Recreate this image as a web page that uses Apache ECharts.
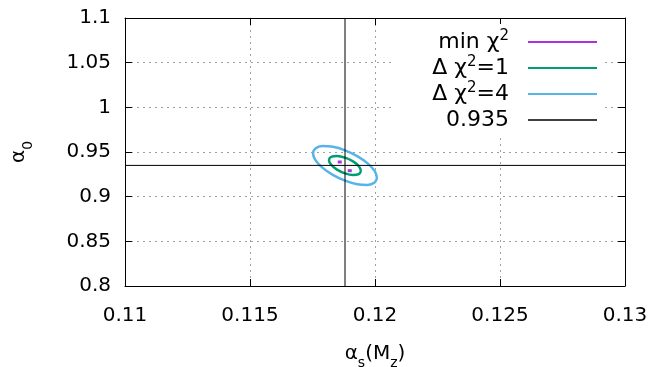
<!DOCTYPE html>
<html>
<head>
<meta charset="utf-8">
<script src="https://cdn.jsdelivr.net/npm/echarts@6/dist/echarts.min.js"></script>
<style>
  html, body { margin: 0; padding: 0; background: #fff; }
  #main { width: 657px; height: 367px; }
</style>
</head>
<body>
<div id="main"></div>
<script>
// axis ticks
var xTicks = [0.11, 0.115, 0.12, 0.125, 0.13];
var yTicks = [0.8, 0.85, 0.9, 0.95, 1, 1.05, 1.1];

// series values: [alpha_s, alpha_0]
var minChi2 = [[0.11859, 0.9388], [0.11899, 0.9291]];
var delta1 = [
  [0.11944, 0.92891], [0.119354, 0.92532], [0.11912, 0.92429], [0.1188, 0.92609],
  [0.11848, 0.93027], [0.118246, 0.93566], [0.11816, 0.94087], [0.118246, 0.94446],
  [0.11848, 0.94549], [0.1188, 0.94368], [0.11912, 0.93951], [0.119354, 0.93412],
  [0.11944, 0.92891]
];
var delta4 = [
  [0.12008, 0.92123], [0.119984, 0.91575], [0.119704, 0.91317], [0.119288, 0.91396],
  [0.1188, 0.91787], [0.118312, 0.92437], [0.117896, 0.93254], [0.117616, 0.94093],
  [0.11752, 0.94855], [0.117616, 0.95403], [0.117896, 0.9566], [0.118312, 0.95582],
  [0.1188, 0.9519], [0.119288, 0.94541], [0.119704, 0.93724], [0.119984, 0.92884],
  [0.12008, 0.92123]
];
var hLine = 0.935;
var vLine = 0.1188;

var names = ['min χ²', 'Δ χ²=1', 'Δ χ²=4', '0.935'];

var chart = echarts.init(document.getElementById('main'), null, { renderer: 'canvas' });

var font = 'DejaVu Sans';
var gridLine = { show: true, lineStyle: { color: '#a0a0a0', type: [2, 4], width: 1 } };

function xAxisDef(pos, showLabel) {
  return {
    type: 'value', position: pos,
    min: xTicks[0], max: xTicks[xTicks.length - 1], interval: 0.005,
    axisLine: { show: true, onZero: false, lineStyle: { color: '#000', width: 1 } },
    axisTick: { show: true, inside: true, length: 7, lineStyle: { color: '#000' } },
    axisLabel: { show: showLabel, color: '#000', fontFamily: font, fontSize: 20, margin: 20 },
    splitLine: showLabel ? gridLine : { show: false }
  };
}
function yAxisDef(pos, showLabel) {
  return {
    type: 'value', position: pos,
    min: yTicks[0], max: yTicks[yTicks.length - 1], interval: 0.05,
    axisLine: { show: true, onZero: false, lineStyle: { color: '#000', width: 1 } },
    axisTick: { show: true, inside: true, length: 7, lineStyle: { color: '#000' } },
    axisLabel: { show: showLabel, color: '#000', fontFamily: font, fontSize: 20, margin: 14 },
    splitLine: showLabel ? gridLine : { show: false }
  };
}

var subStyle = { fontSize: 14, fontFamily: font, color: '#000', verticalAlign: 'bottom', padding: [0, 0, -6, 0] };

var xa = xAxisDef('bottom', true);
xa.name = 'α{sub|s}(M{sub|z})';
xa.nameLocation = 'middle';
xa.nameGap = 58;
xa.nameTextStyle = { color: '#000', fontFamily: font, fontSize: 20, rich: { sub: subStyle } };

var ya = yAxisDef('left', true);
ya.name = 'α{sub|0}';
ya.nameLocation = 'middle';
ya.nameGap = 96;
ya.nameRotate = 90;
ya.nameTextStyle = { color: '#000', fontFamily: font, fontSize: 20, rich: { sub: subStyle } };

var option = {
  animation: false,
  backgroundColor: '#fff',
  grid: { left: 125, right: 32, top: 18, bottom: 81, containLabel: false, outerBoundsMode: 'none' },
  xAxis: [xa, xAxisDef('top', false)],
  yAxis: [ya, yAxisDef('right', false)],
  legend: {
    orient: 'vertical',
    right: 55, top: 24,
    padding: 5,
    itemGap: 0,
    itemWidth: 69, itemHeight: 2,
    icon: 'rect',
    align: 'right',
    backgroundColor: '#fff',
    data: names,
    formatter: function (n) {
      return n.replace('χ²', 'χ{sup|2}');
    },
    textStyle: {
      color: '#000', fontFamily: font, fontSize: 22,
      width: 110, align: 'right', lineHeight: 26, padding: [0, 14, 0, 0],
      rich: { sup: { fontSize: 15, fontFamily: font, color: '#000', verticalAlign: 'top', lineHeight: 20 } }
    }
  },
  series: [
    {
      name: names[0], type: 'scatter', data: minChi2,
      symbol: 'rect', symbolSize: [4, 3],
      itemStyle: { color: '#9400d3' }
    },
    {
      name: names[1], type: 'line', data: delta1, smooth: 0.4, showSymbol: false,
      lineStyle: { color: '#009e73', width: 2.5 }, itemStyle: { color: '#009e73' }
    },
    {
      name: names[2], type: 'line', data: delta4, smooth: 0.4, showSymbol: false,
      lineStyle: { color: '#56b4e9', width: 2.5 }, itemStyle: { color: '#56b4e9' }
    },
    {
      name: names[3], type: 'line', showSymbol: false,
      data: [[xTicks[0], hLine], [xTicks[xTicks.length - 1], hLine]],
      lineStyle: { color: '#000', width: 1 }, itemStyle: { color: '#404040' }
    },
    {
      name: 'vline', type: 'line', showSymbol: false,
      data: [[vLine, yTicks[0]], [vLine, yTicks[yTicks.length - 1]]],
      lineStyle: { color: '#000', width: 1 }, itemStyle: { color: '#000' }
    }
  ]
};
chart.setOption(option);
</script>
</body>
</html>
